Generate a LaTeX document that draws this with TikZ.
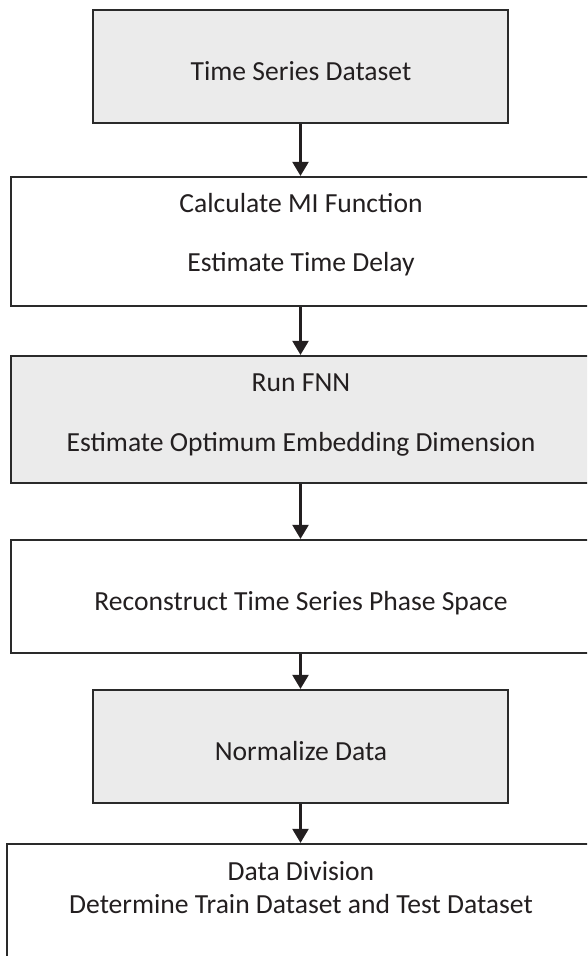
\documentclass[tikz,border=0pt]{standalone}
\usepackage{fontspec}
\setmainfont{Carlito}
\usetikzlibrary{arrows.meta}
\definecolor{boxgray}{HTML}{EBEBEB}
\definecolor{edge}{HTML}{2A2A2A}
\definecolor{ink}{HTML}{231F20}
\tikzset{
  box/.style={draw=edge, line width=2.2pt, rectangle, inner sep=0pt},
  graybox/.style={box, fill=boxgray},
  whitebox/.style={box, fill=white},
  txt/.style={anchor=base, inner sep=0pt, text=ink, font=\fontsize{27.6}{33}\selectfont},
  arr/.style={draw=ink, line width=2.2pt, -{Triangle[width=16pt,length=14pt]}}
}
\begin{document}
\begin{tikzpicture}[x=1pt,y=-1pt]
\useasboundingbox (0,0) rectangle (587,956);
\fill[white] (0,0) rectangle (587,956);
\clip (0,0) rectangle (587,956);
% boxes
\node[graybox, minimum width=415pt, minimum height=113pt] (b1) at (300.5,66.5) {};
\node[whitebox, minimum width=589pt, minimum height=129pt] (b2) at (305.5,241.5) {};
\node[graybox, minimum width=589pt, minimum height=127pt] (b3) at (305.5,419.5) {};
\node[whitebox, minimum width=589pt, minimum height=113pt] (b4) at (305.5,596.5) {};
\node[graybox, minimum width=415pt, minimum height=113pt] (b5) at (300.5,746.5) {};
\node[whitebox, minimum width=593pt, minimum height=140pt] (b6) at (303.5,914) {};
% texts
\node[txt] (t1) at (301,80) {Time Series Dataset};
\node[txt] (t2a) at (301,212.5) {Calculate MI Function};
\node[txt] (t2b) at (301,271.5) {Estimate Time Delay};
\node[txt] (t3a) at (301,391.5) {Run FNN};
\node[txt] (t3b) at (301,451.5) {Estimate Optimum Embedding Dimension};
\node[txt] (t4) at (301,610) {Reconstruct Time Series Phase Space};
\node[txt] (t5) at (301,760) {Normalize Data};
\node[txt] (t6a) at (301,880.5) {Data Division};
\node[txt] (t6b) at (301,913) {Determine Train Dataset and Test Dataset};
% arrows
\draw[arr] (b1.south) -- (b1.south |- b2.north);
\draw[arr] (b1.south |- b2.south) -- (b1.south |- b3.north);
\draw[arr] (b1.south |- b3.south) -- (b1.south |- b4.north);
\draw[arr] (b1.south |- b4.south) -- (b5.north);
\draw[arr] (b5.south) -- (b5.south |- b6.north);
\end{tikzpicture}
\end{document}
